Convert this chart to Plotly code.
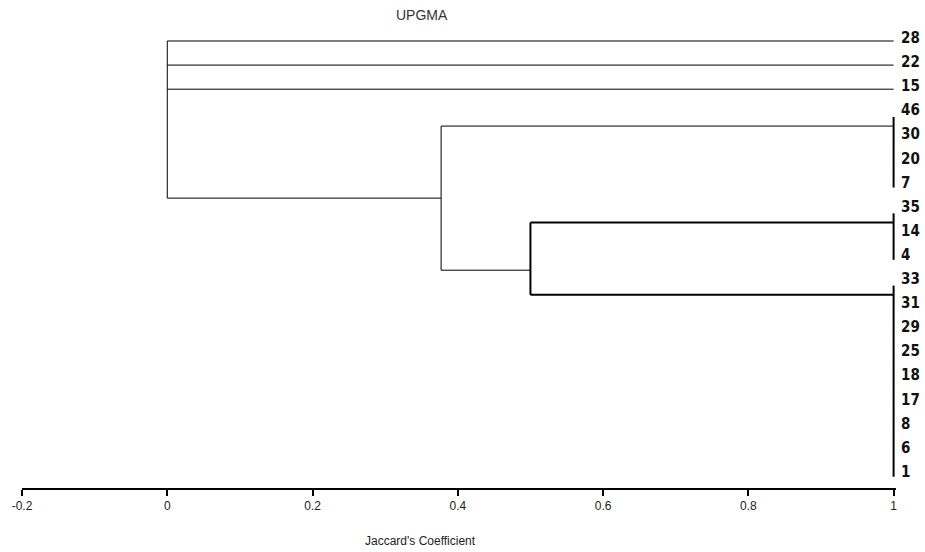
import plotly.graph_objects as go

# ---------------- data ----------------
leaves = ["28", "22", "15", "46", "30", "20", "7", "35", "14", "4",
          "33", "31", "29", "25", "18", "17", "8", "6", "1"]
outgroups = ["28", "22", "15"]
cluster_A = ["46", "30", "20", "7"]
cluster_B = ["35", "14", "4"]
cluster_C = ["33", "31", "29", "25", "18", "17", "8", "6", "1"]
sim_root = 0.0        # outgroups + rest join
sim_A_BC = 0.377      # cluster A joins (B, C)
sim_B_C = 0.5         # cluster B joins cluster C
sim_identical = 1.0   # identical accessions
x_ticks = [-0.2, 0, 0.2, 0.4, 0.6, 0.8, 1]
x_tick_labels = ["-0.2", "0", "0.2", "0.4", "0.6", "0.8", "1"]

# ---------------- layout helpers (positions) ----------------
idx = {name: i for i, name in enumerate(leaves)}
GROUP_LINE_OFF = 0.53
BAR_TOP_OFF = 0.15
BAR_BOT_OFF = 0.08
BC_NODE_SHIFT = 0.48

def group_line_y(g):
    return idx[g[0]] + GROUP_LINE_OFF

def bar_span(g):
    return idx[g[0]] + BAR_TOP_OFF, idx[g[-1]] + BAR_BOT_OFF

yA = group_line_y(cluster_A)
yB = group_line_y(cluster_B)
yC = group_line_y(cluster_C)
yBC = (yB + yC) / 2 + BC_NODE_SHIFT
yABC = (yA + yBC) / 2

thin_x, thin_y, thick_x, thick_y = [], [], [], []

def seg(xs, ys, thick=False):
    if thick:
        thick_x.extend(list(xs) + [None]); thick_y.extend(list(ys) + [None])
    else:
        thin_x.extend(list(xs) + [None]); thin_y.extend(list(ys) + [None])

# outgroups
for g in outgroups:
    seg([sim_root, sim_identical], [idx[g], idx[g]])
# root vertical + horizontal to A_BC node
seg([sim_root, sim_root], [idx[outgroups[0]], yABC])
seg([sim_root, sim_A_BC], [yABC, yABC])
# A_BC node
seg([sim_A_BC, sim_A_BC], [yA, yBC])
seg([sim_A_BC, sim_identical], [yA, yA])
seg([sim_A_BC, sim_B_C], [yBC, yBC])
# B_C node
seg([sim_B_C, sim_B_C], [yB, yC], thick=True)
seg([sim_B_C, sim_identical], [yB, yB], thick=True)
seg([sim_B_C, sim_identical], [yC, yC], thick=True)
# identical groups bars
for g in (cluster_A, cluster_B, cluster_C):
    t, b = bar_span(g)
    seg([sim_identical, sim_identical], [t, b], thick=True)

fig = go.Figure()
fig.add_trace(go.Scatter(x=thin_x, y=thin_y, mode="lines",
                         line=dict(color="black", width=1), hoverinfo="skip",
                         showlegend=False))
fig.add_trace(go.Scatter(x=thick_x, y=thick_y, mode="lines",
                         line=dict(color="black", width=2), hoverinfo="skip",
                         showlegend=False))

annotations = []
for name in leaves:
    annotations.append(dict(x=sim_identical, y=idx[name], xref="x", yref="y",
                            text=f"<b>{name}</b>", showarrow=False,
                            xanchor="left", yanchor="middle", xshift=5, yshift=3,
                            font=dict(family="DejaVu Sans Condensed, DejaVu Sans",
                                      size=15, color="#111111")))
annotations.append(dict(x=0.456, y=-0.116, xref="paper", yref="paper",
                        text="Jaccard's Coefficient", showarrow=False,
                        xanchor="center", yanchor="middle",
                        font=dict(family="Liberation Sans, Arial", size=12,
                                  color="#222222")))
annotations.append(dict(x=0.458, y=1.033, xref="paper", yref="paper",
                        text="UPGMA", showarrow=False,
                        xanchor="center", yanchor="middle",
                        font=dict(family="Liberation Sans, Arial", size=14,
                                  color="#333333")))

fig.update_layout(
    width=925, height=552,
    margin=dict(l=20, r=29, t=30, b=64),
    plot_bgcolor="white", paper_bgcolor="white",
    annotations=annotations,
    xaxis=dict(range=[-0.2, 1.0033], tickmode="array", tickvals=x_ticks,
               ticktext=x_tick_labels, showgrid=False, zeroline=False,
               showline=True, linecolor="black", linewidth=1.5,
               ticks="outside", ticklen=6, tickwidth=1.5, tickcolor="black",
               tickfont=dict(family="Liberation Sans, Arial", size=12,
                             color="#222222"),
               fixedrange=True),
    yaxis=dict(range=[18.547, -0.456], visible=False, fixedrange=True),
)

fig.write_html("out.html",
               config={"displayModeBar": False},
               post_script="document.body.style.margin='0';document.body.style.overflow='hidden';")
